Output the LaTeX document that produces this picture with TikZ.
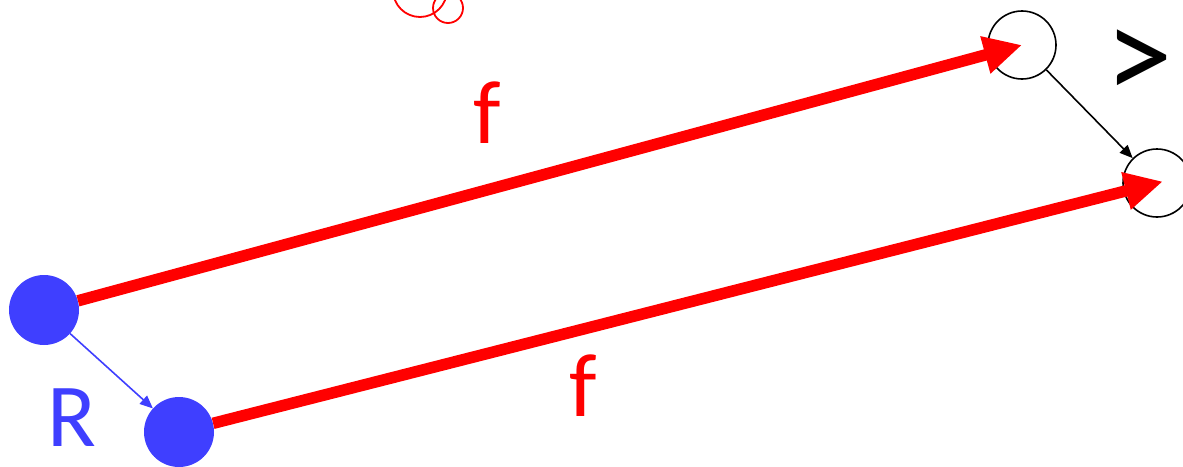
\documentclass[tikz,border=0pt]{standalone}
\usepackage{fontspec}
\setmainfont{Carlito}
\usetikzlibrary{arrows.meta}
\definecolor{fred}{HTML}{FF0000}
\definecolor{rblue}{HTML}{3F3FFF}

\begin{document}
\begin{tikzpicture}[x=1pt, y=-1pt,
  big/.style={inner sep=0pt, font=\fontsize{90}{90}\selectfont},
  dot/.style={circle, fill=rblue, minimum size=70pt, inner sep=0pt},
  hole/.style={circle, draw=black, line width=1.6pt, fill=white, minimum size=68pt, inner sep=0pt},
  fmap/.style={draw=fred, line width=11.5pt, -{Triangle[length=38pt, width=36pt]}},
  rel/.style={line width=1.6pt, -{Triangle[length=13pt, width=11pt]}}]

\useasboundingbox (0,0) rectangle (1183,466);

% scribble
\draw[fred, line width=1.8pt] (420,-10) circle (27) (448,8) circle (15);

\node[dot] (a1) at (44,310) {};
\node[dot] (a2) at (179,432) {};
\node[hole] (b1) at (1022,45) {};
\node[hole] (b2) at (1157,183) {};

\draw[fmap] (a1) -- (b1.center);
\draw[fmap, shorten >=-6pt] (a2) -- (b2.center);
\draw[rel, draw=rblue, fill=rblue] (a1) -- (a2);
\draw[rel] (b1) -- (b2);

\node[big, text=fred] (f1) at (487,113) {f};
\node[big, text=fred] (f2) at (583,386) {f};
\node[big, text=rblue] (r) at (72,418) {R};
\node[big, font=\fontsize{135}{135}\selectfont] (gt) at (1139,65) {>};
\end{tikzpicture}
\end{document}
